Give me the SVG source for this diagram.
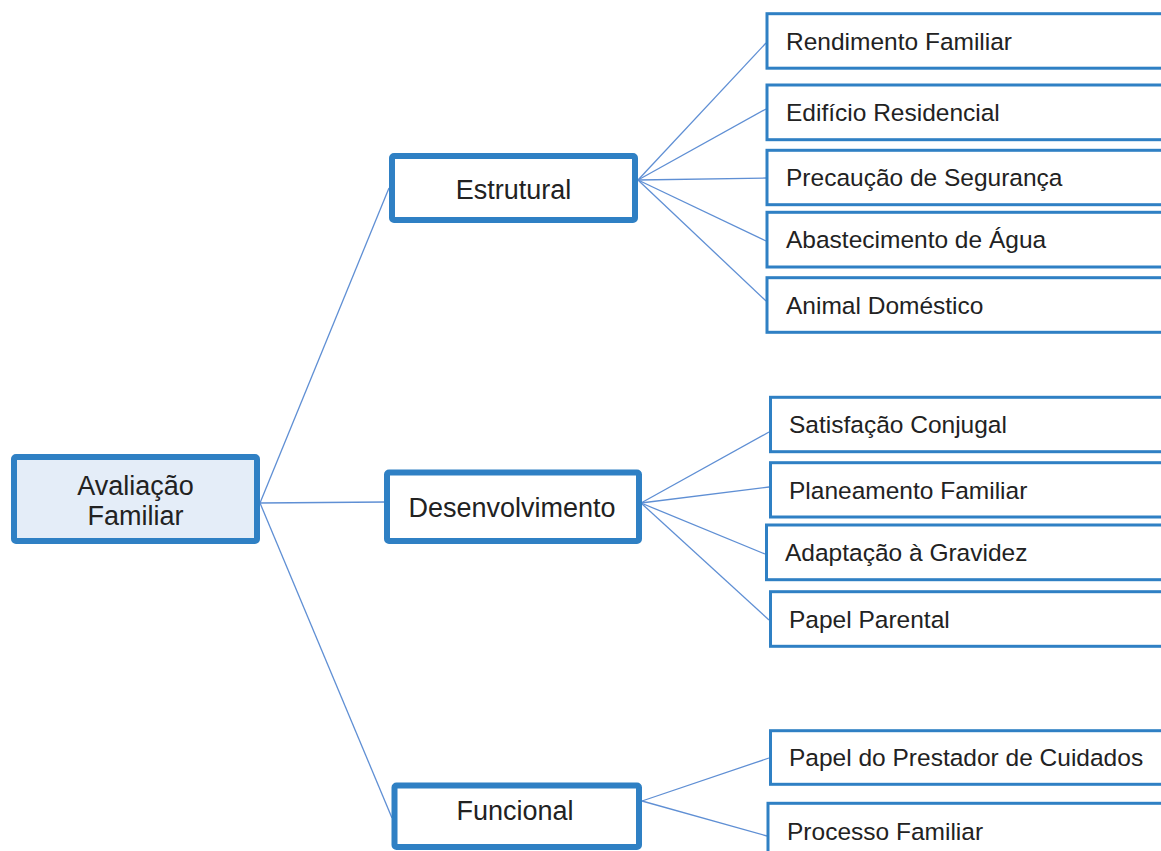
<svg xmlns="http://www.w3.org/2000/svg" width="1161" height="851" viewBox="0 0 1161 851">
<style>
.root{fill:#e4edf8;stroke:#2f80c4;stroke-width:6}
.mid{fill:#ffffff;stroke:#2f80c4;stroke-width:6}
.leaf{fill:#ffffff;stroke:#2f80c4;stroke-width:3}
.c{stroke:#5f8fd4;stroke-width:1.3;fill:none}
text{font-family:"Liberation Sans",Arial,Helvetica,sans-serif;fill:#222222}
.big{font-size:27px;text-anchor:middle}
.sm{font-size:24.5px}
</style>
<rect width="1161" height="851" fill="#ffffff"/>
<g id="connectors">
<line class="c" x1="260" y1="503" x2="389" y2="188"/>
<line class="c" x1="260" y1="503" x2="386" y2="502"/>
<line class="c" x1="260" y1="503" x2="392" y2="818"/>
<line class="c" x1="638" y1="180" x2="766" y2="43"/>
<line class="c" x1="638" y1="180" x2="766" y2="109"/>
<line class="c" x1="638" y1="180" x2="766" y2="178"/>
<line class="c" x1="638" y1="180" x2="766" y2="241"/>
<line class="c" x1="638" y1="180" x2="766" y2="301"/>
<line class="c" x1="641" y1="503" x2="769" y2="432"/>
<line class="c" x1="641" y1="503" x2="769" y2="487"/>
<line class="c" x1="641" y1="503" x2="765" y2="554"/>
<line class="c" x1="641" y1="503" x2="769" y2="620"/>
<line class="c" x1="642" y1="801" x2="769" y2="758"/>
<line class="c" x1="642" y1="801" x2="767" y2="836"/>
</g>
<g id="n-root">
<rect class="root" x="14" y="457" width="243" height="84" rx="2"/>
<text class="big" x="135.5" y="494.5">Avaliação</text>
<text class="big" x="135.5" y="524.5">Familiar</text>
</g>
<g id="n-estrutural">
<rect class="mid" x="392" y="156" width="243" height="64" rx="2"/>
<text class="big" x="513.5" y="199">Estrutural</text>
</g>
<g id="n-desenvolvimento">
<rect class="mid" x="387" y="472.5" width="252" height="68.5" rx="2"/>
<text class="big" x="512" y="516.5">Desenvolvimento</text>
</g>
<g id="n-funcional">
<rect class="mid" x="394.5" y="785.5" width="244.5" height="61.5" rx="2"/>
<text class="big" x="515" y="820">Funcional</text>
</g>
<g id="n-rendimento">
<rect class="leaf" x="767" y="13.7" width="420" height="54.5"/>
<text class="sm" x="786" y="50">Rendimento Familiar</text>
</g>
<g id="n-edificio">
<rect class="leaf" x="767" y="85" width="420" height="54.7"/>
<text class="sm" x="786" y="121">Edifício Residencial</text>
</g>
<g id="n-precaucao">
<rect class="leaf" x="767" y="150.3" width="420" height="54.4"/>
<text class="sm" x="786" y="186.2">Precaução de Segurança</text>
</g>
<g id="n-abastecimento">
<rect class="leaf" x="767" y="212.3" width="420" height="54.7"/>
<text class="sm" x="786" y="248.4">Abastecimento de Água</text>
</g>
<g id="n-animal">
<rect class="leaf" x="767" y="277.7" width="420" height="54.6"/>
<text class="sm" x="786" y="313.7">Animal Doméstico</text>
</g>
<g id="n-satisfacao">
<rect class="leaf" x="770.5" y="397.3" width="420" height="54.4"/>
<text class="sm" x="789" y="433.2">Satisfação Conjugal</text>
</g>
<g id="n-planeamento">
<rect class="leaf" x="770.5" y="462.7" width="420" height="54.3"/>
<text class="sm" x="789" y="498.5">Planeamento Familiar</text>
</g>
<g id="n-adaptacao">
<rect class="leaf" x="766.5" y="525" width="420" height="54.7"/>
<text class="sm" x="785" y="561">Adaptação à Gravidez</text>
</g>
<g id="n-papel-parental">
<rect class="leaf" x="770.5" y="591.7" width="420" height="54.6"/>
<text class="sm" x="789" y="627.7">Papel Parental</text>
</g>
<g id="n-prestador">
<rect class="leaf" x="770.5" y="730.7" width="420" height="53.6"/>
<text class="sm" x="789" y="766.2">Papel do Prestador de Cuidados</text>
</g>
<g id="n-processo">
<rect class="leaf" x="768" y="803.3" width="420" height="54.6"/>
<text class="sm" x="787" y="839.5">Processo Familiar</text>
</g>
</svg>
